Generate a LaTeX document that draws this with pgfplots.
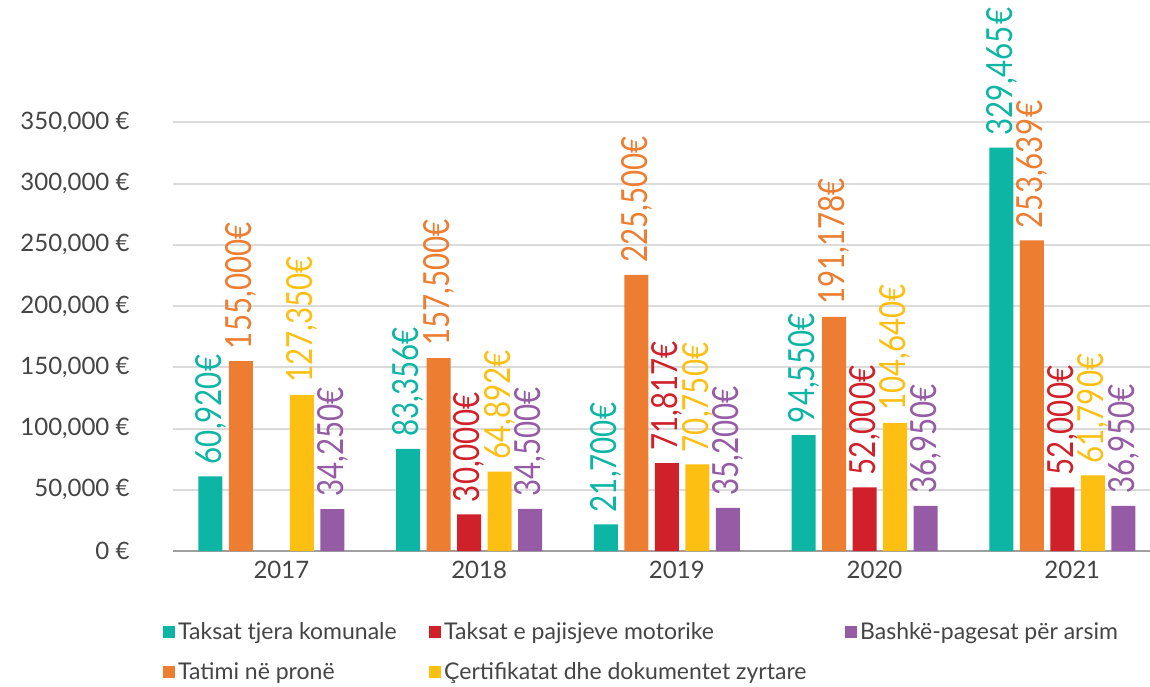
\documentclass[border=0pt]{standalone}
\usepackage{fontspec}
\setmainfont{Lato}
\newfontfamily\labelfont[FakeStretch=0.82]{Lato}
\usepackage{pgfplots}
\pgfplotsset{compat=1.18}
\definecolor{cteal}{HTML}{0DB5A5}
\definecolor{corange}{HTML}{ED7D31}
\definecolor{cred}{HTML}{D0202A}
\definecolor{cyellow}{HTML}{FDBF12}
\definecolor{cpurple}{HTML}{955BA5}
\definecolor{ctext}{HTML}{444444}
\begin{document}
\begin{tikzpicture}
\useasboundingbox (-173pt,-135pt) rectangle (977pt,551pt);
\begin{axis}[
  scale only axis, width=977pt, height=551pt,
  xmin=-0.498, xmax=4.443, ymin=0, ymax=450000,
  ybar, bar width=24pt,
  axis lines*=left,
  axis line style={-},
  y axis line style={draw=none},
  x axis line style={draw=gray!75, line width=1.5pt},
  major tick length=0pt,
  ymajorgrids, grid style={line width=2pt, color=gray!28},
  ytick={0,50000,100000,150000,200000,250000,300000,350000},
  yticklabels={{0 €},{50,000 €},{100,000 €},{150,000 €},{200,000 €},{250,000 €},{300,000 €},{350,000 €}},
  scaled y ticks=false,
  yticklabel style={font=\fontsize{24}{28}\selectfont, text=ctext, xshift=-40pt},
  xtick={0.05,1.05,2.05,3.05,4.05},
  xticklabels={2017,2018,2019,2020,2021},
  xticklabel style={font=\fontsize{24}{28}\selectfont, text=ctext, yshift=-7pt},
  clip=false,
  point meta=explicit symbolic,
  nodes near coords,
  every node near coord/.append style={rotate=90, anchor=west, font=\labelfont\fontsize{36}{36}\selectfont, inner xsep=12pt, inner ysep=0pt},
  legend columns=3,
  legend cell align=left,
  legend image code/.code={\fill[#1] (0pt,-6pt) rectangle (12pt,6pt);},
  legend style={at={(-0.0133,-0.12)}, anchor=north west, draw=none, fill=none,
    font=\fontsize{23}{26}\selectfont, text=ctext, row sep=16pt, column sep=0pt,
    nodes={inner sep=3pt}},
]
\addplot[fill=cteal, draw=none, bar shift=-61pt, every node near coord/.append style={text=cteal}]
  coordinates {(0,60920) [60,920€] (1,83356) [83,356€] (2,21700) [21,700€] (3,94550) [94,550€] (4,329465) [329,465\hspace{1pt}€]};
\addlegendentry{\makebox[248pt][l]{Taksat tjera komunale}}
\addplot[fill=cred, draw=none, bar shift=0pt, every node near coord/.append style={text=cred}]
  coordinates {(1,30000) [30,000€] (2,71817) [71,817€] (3,52000) [52,000€] (4,52000) [52,000€]};
\addlegendentry{\makebox[398pt][l]{Taksat e pajisjeve motorike}}
\addplot[fill=cpurple, draw=none, bar shift=61pt, every node near coord/.append style={text=cpurple}]
  coordinates {(0,34250) [34,250€] (1,34500) [34,500€] (2,35200) [35,200€] (3,36950) [36,950€] (4,36950) [36,950€]};
\addlegendentry{Bashkë-pagesat për arsim}
\addplot[fill=corange, draw=none, bar shift=-30.5pt, every node near coord/.append style={text=corange}]
  coordinates {(0,155000) [155,000€] (1,157500) [157,500€] (2,225500) [225,500€] (3,191178) [191,178€] (4,253639) [253,639\hspace{1pt}€]};
\addlegendentry{Tatimi në pronë}
\addplot[fill=cyellow, draw=none, bar shift=30.5pt, every node near coord/.append style={text=cyellow}]
  coordinates {(0,127350) [127,350€] (1,64892) [64,892€] (2,70750) [70,750€] (3,104640) [104,640€] (4,61790) [61,790€]};
\addlegendentry{Çertifikatat dhe dokumentet zyrtare}
\end{axis}
\end{tikzpicture}
\end{document}
